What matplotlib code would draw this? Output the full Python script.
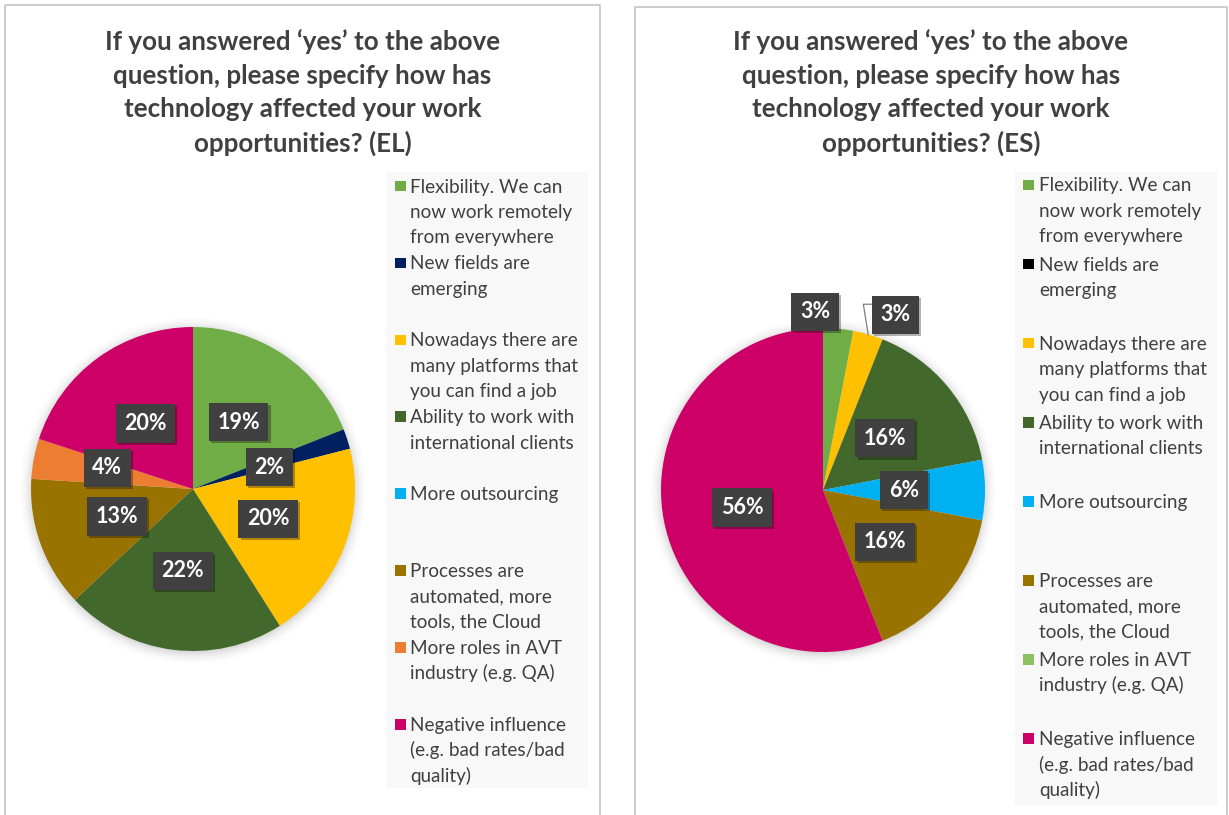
import numpy as np
import matplotlib
matplotlib.use("Agg")
import matplotlib.pyplot as plt
from matplotlib.patches import Rectangle, Circle
import matplotlib.patheffects as pe

# ---- data -------------------------------------------------------------
categories = [
    "Flexibility. We can\nnow work remotely\nfrom everywhere",
    "New fields are\nemerging",
    "Nowadays there are\nmany platforms that\nyou can find a job",
    "Ability to work with\ninternational clients",
    "More outsourcing",
    "Processes are\nautomated, more\ntools, the Cloud",
    "More roles in AVT\nindustry (e.g. QA)",
    "Negative influence\n(e.g. bad rates/bad\nquality)",
]
values_el = [19, 2, 20, 22, 0, 13, 4, 20]
values_es = [3, 0, 3, 16, 6, 16, 0, 56]
colors_el = ["#70AD47", "#002060", "#FFC000", "#43682B", "#00B0F0", "#997300", "#ED7D31", "#CC0066"]
colors_es = ["#70AD47", "#000000", "#FFC000", "#43682B", "#00B0F0", "#997300", "#8DC262", "#CC0066"]
title_el = "If you answered \u2018yes\u2019 to the above\nquestion, please specify how has\ntechnology affected your work\nopportunities? (EL)"
title_es = "If you answered \u2018yes\u2019 to the above\nquestion, please specify how has\ntechnology affected your work\nopportunities? (ES)"

# ---- layout -----------------------------------------------------------
W, H = 1229, 815
FONT = "Lato"
TXT = "#404040"
fig = plt.figure(figsize=(W / 100, H / 100), dpi=100)
fig.patch.set_facecolor("white")


def fx(x):
    return x / W


def fy(y):
    return 1 - y / H


def panel(x0, x1, y0, title, values, colors, center, legend_box, leg_first, leg_step,
          marker_x, text_x, label_tweaks):
    # card outline (open at the bottom)
    fig.add_artist(plt.Line2D([fx(x0), fx(x0), fx(x1), fx(x1)],
                              [fy(H + 5), fy(y0), fy(y0), fy(H + 5)],
                              color="#c8c8c8", lw=1.3))
    # title
    xc = (x0 + x1) / 2
    for i, line in enumerate(title.split("\n")):
        fig.text(fx(xc), fy(42 + i * 33.7), line, ha="center", va="center",
                 fontsize=18.7, fontweight="bold", color=TXT, family=FONT)

    # legend
    lx0, ly0, lx1, ly1 = legend_box
    fig.add_artist(Rectangle((fx(lx0), fy(ly1)), fx(lx1 - lx0), (ly1 - ly0) / H,
                             facecolor="#f8f8f8", edgecolor="none"))
    for k, (cat, col) in enumerate(zip(categories, colors)):
        yc = leg_first + k * leg_step
        s = 10.5
        fig.add_artist(Rectangle((fx(marker_x), fy(yc + s / 2)), s / W, s / H,
                                 facecolor=col, edgecolor="none"))
        for j, line in enumerate(cat.split("\n")):
            fig.text(fx(text_x), fy(yc + j * 25.4 + 6.5), line, ha="left", va="baseline",
                     fontsize=13.6, color=TXT, family=FONT)

    # pie
    cx, cy = center
    R = 162.0
    L = 1.3
    half = L * R
    ax = fig.add_axes([fx(cx - half), fy(cy + half), 2 * half / W, 2 * half / H])
    ax.set_facecolor("none")

    # soft shadow around the pie
    for r, a in zip(np.linspace(1.0, 1.07, 8), np.linspace(0.06, 0.01, 8)):
        ax.add_patch(Circle((0, -0.01), r, facecolor="#808080", edgecolor="none",
                            alpha=a, zorder=0))

    wedges, _ = ax.pie(values, colors=colors, startangle=90, counterclock=False,
                       radius=1.0, wedgeprops=dict(linewidth=0))
    for w in wedges:
        w.set_zorder(2)
    ax.set_xlim(-L, L)
    ax.set_ylim(-L, L)
    ax.set_aspect("equal")
    ax.axis("off")

    total = float(sum(values))
    start = 0.0
    for k, v in enumerate(values):
        frac = v / total
        mid = start + frac / 2
        start += frac
        if v <= 0:
            continue
        rr, shift = label_tweaks.get(k, (0.5, 0.0))
        ang = np.deg2rad(mid * 360 + shift)
        tx, ty = rr * np.sin(ang), rr * np.cos(ang)
        t = ax.text(tx, ty, f"{v}%", ha="center", va="center", fontsize=15.5,
                    fontweight="bold", color="white", family=FONT, zorder=6,
                    bbox=dict(boxstyle="square,pad=0.4", facecolor="#404040",
                              edgecolor="none", linewidth=0))
        t.get_bbox_patch().set_path_effects(
            [pe.SimplePatchShadow(offset=(1.5, -1.5), shadow_rgbFace="#000000", alpha=0.3),
             pe.Normal()])
        if rr > 1.0 and shift > 3:
            # leader line from the slice edge to the outside label
            ex, ey = np.sin(np.deg2rad(mid * 360)), np.cos(np.deg2rad(mid * 360))
            ax.plot([ex, ex - 0.03, tx - 0.14], [ey, ty + 0.065, ty + 0.065],
                    color="#7f7f7f", lw=0.9, zorder=5)
    return ax


panel(5, 600, 5, title_el, values_el, colors_el, center=(193, 489),
      legend_box=(386, 172, 588, 788), leg_first=186, leg_step=76.9,
      marker_x=395, text_x=410,
      label_tweaks={1: (0.49, 2.0), 6: (0.545, 3.0), 3: (0.51, 0.0)})

panel(635, 1227, 7, title_es, values_es, colors_es, center=(823, 490),
      legend_box=(1015, 172, 1217, 805), leg_first=185, leg_step=79.1,
      marker_x=1023, text_x=1039,
      label_tweaks={0: (1.1, -8.0), 2: (1.17, 6.2), 7: (0.51, -1.5)})

fig.savefig("out.png", dpi=100, facecolor="white")
